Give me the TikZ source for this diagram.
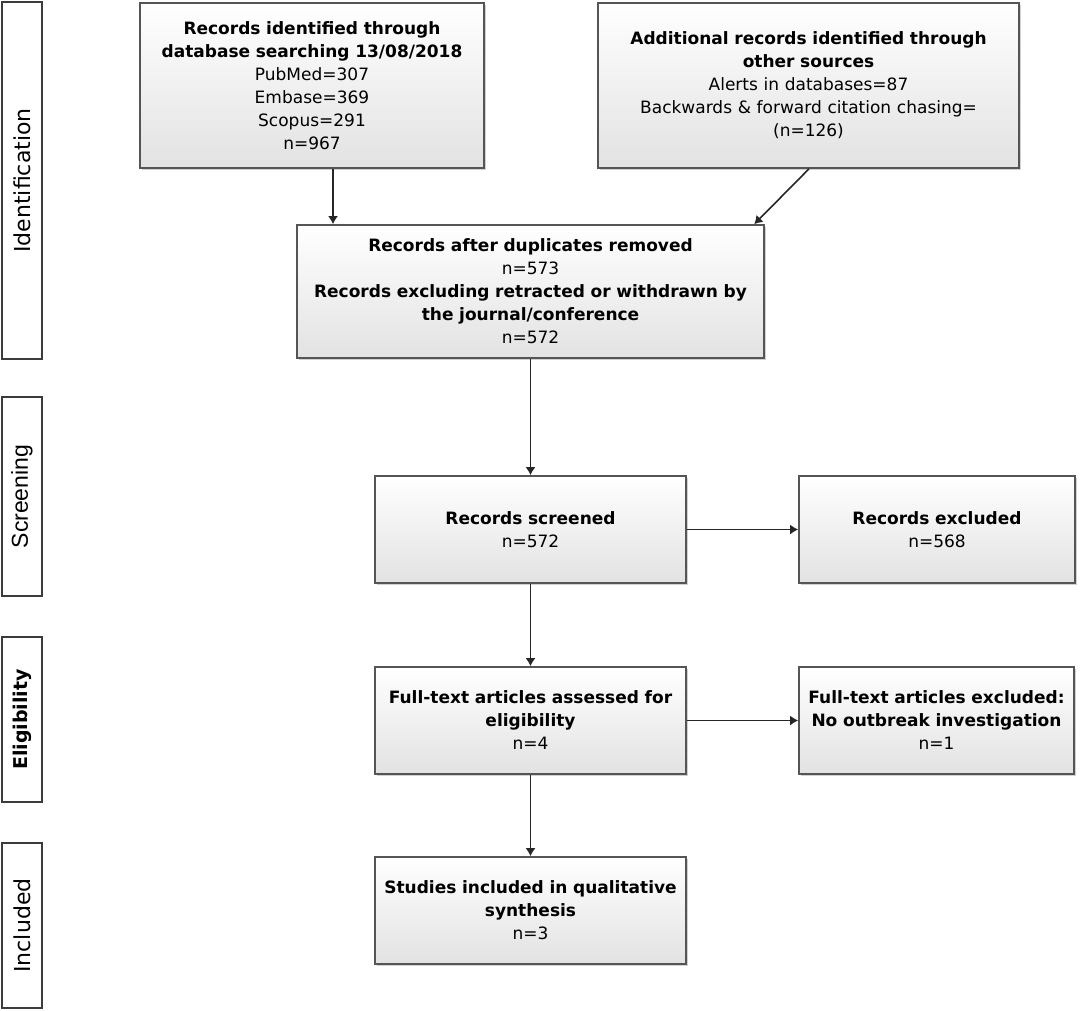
\documentclass[tikz,border=0pt]{standalone}
\usepackage{fontspec}
\setmainfont{DejaVu Sans}
\newfontfamily\arialfont{Liberation Sans}
\usetikzlibrary{arrows.meta,shadows}
\definecolor{boxbot}{RGB}{226,226,226}
\definecolor{boxline}{RGB}{85,85,85}
\definecolor{labline}{RGB}{60,60,60}
\tikzset{
  flowbox/.style={draw=boxline, line width=1.6pt, top color=white, bottom color=boxbot,
    drop shadow={shadow xshift=1.5pt, shadow yshift=-1.5pt, opacity=0.18, fill=black},
    align=center, inner sep=0pt, font=\fontsize{17}{23}\selectfont},
  sidelab/.style={draw=labline, line width=1.6pt, fill=white, rotate=90, inner sep=0pt,
    minimum height=40pt},
  arr/.style={-{Latex[length=8pt,width=10pt]}, line width=1.6pt, black!85},
}
\begin{document}
\begin{tikzpicture}[x=1pt,y=-1pt]
\useasboundingbox (0,0) rectangle (1084,1010);
% side labels
\node[sidelab, minimum width=357pt, font=\fontsize{22}{24}\selectfont] (lid) at (22,180.5) {Identification};
\node[sidelab, minimum width=199pt, font=\arialfont\fontsize{23}{24}\selectfont] (lsc) at (22,496.5) {Screening};
\node[sidelab, minimum width=165pt, font=\bfseries\fontsize{19}{24}\selectfont] (lel) at (22,719.5) {Eligibility};
\node[sidelab, minimum width=165pt, font=\fontsize{22}{24}\selectfont] (lin) at (22,925.5) {Included};
% boxes
\node[flowbox, minimum width=344pt, minimum height=165pt, text width=340pt] (b1) at (312,85.5)
  {\textbf{Records identified through}\\\textbf{database searching 13/08/2018}\\PubMed=307\\Embase=369\\Scopus=291\\n=967};
\node[flowbox, minimum width=421pt, minimum height=165pt, text width=415pt] (b2) at (808.5,85.5)
  {\textbf{Additional records identified through}\\\textbf{other sources}\\Alerts in databases=87\\Backwards \& forward citation chasing=\\(n=126)};
\node[flowbox, minimum width=467pt, minimum height=133pt, text width=460pt] (b3) at (530.5,291.5)
  {\textbf{Records after duplicates removed}\\n=573\\\textbf{Records excluding retracted or withdrawn by}\\\textbf{the journal/conference}\\n=572};
\node[flowbox, minimum width=311pt, minimum height=107pt, text width=305pt] (b4) at (530.5,529.5)
  {\textbf{Records screened}\\n=572};
\node[flowbox, minimum width=276pt, minimum height=107pt, text width=270pt] (b5) at (937,529.5)
  {\textbf{Records excluded}\\n=568};
\node[flowbox, minimum width=311pt, minimum height=107pt, text width=305pt] (b6) at (530.5,720.5)
  {\textbf{Full-text articles assessed for}\\\textbf{eligibility}\\n=4};
\node[flowbox, minimum width=275pt, minimum height=107pt, text width=272pt] (b7) at (936.5,720.5)
  {\textbf{Full-text articles excluded:}\\\textbf{No outbreak investigation}\\n=1};
\node[flowbox, minimum width=311pt, minimum height=107pt, text width=305pt] (b8) at (530.5,910.5)
  {\textbf{Studies included in qualitative}\\\textbf{synthesis}\\n=3};
% connectors
\coordinate (a1) at ([xshift=21pt]b1.south);
\draw[arr] (a1) -- (a1 |- b3.north);
\coordinate (a2) at ([xshift=0.5pt]b2.south);
\coordinate (a3) at ([xshift=458pt]b3.north west);
\draw[arr] (a2) -- (a3);
\draw[arr] (b3.south) -- (b4.north);
\draw[arr] (b4.east) -- (b5.west);
\draw[arr] (b4.south) -- (b6.north);
\draw[arr] (b6.east) -- (b7.west);
\draw[arr] (b6.south) -- (b8.north);
\end{tikzpicture}
\end{document}
